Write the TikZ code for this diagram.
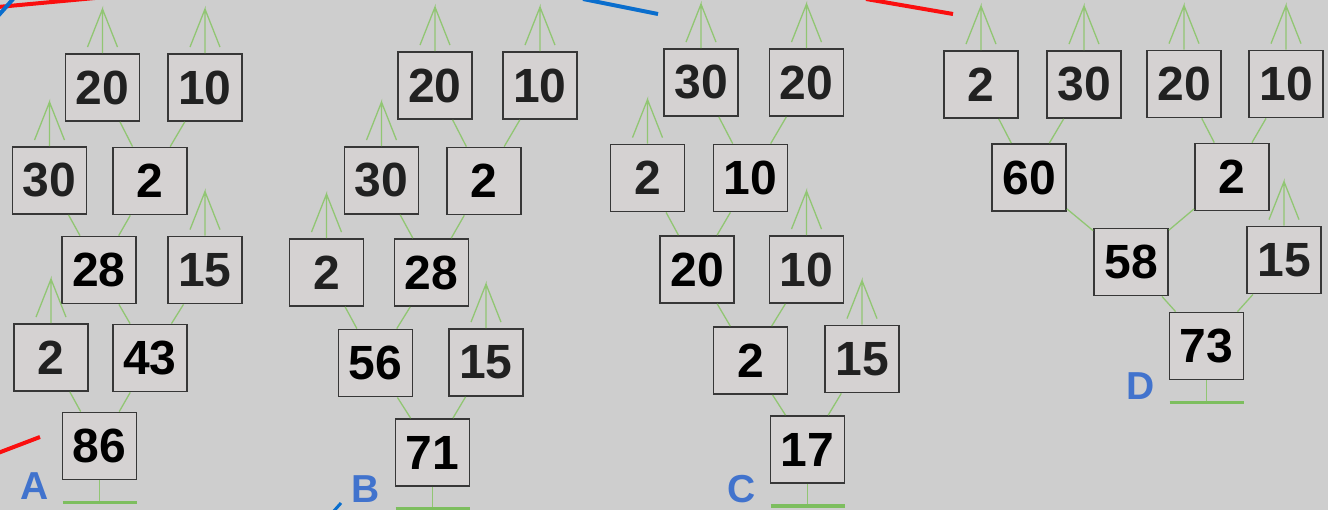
\documentclass[tikz,border=0pt]{standalone}
\usepackage{fontspec}
\setmainfont{Liberation Sans}
\definecolor{bggray}{RGB}{206,206,206}
\definecolor{boxfill}{RGB}{213,210,210}
\definecolor{boxline}{RGB}{55,55,55}
\definecolor{leafgreen}{RGB}{145,198,115}
\definecolor{groundgreen}{RGB}{125,190,95}
\definecolor{labelblue}{RGB}{65,115,205}
\definecolor{markred}{RGB}{250,15,15}
\definecolor{markblue}{RGB}{10,110,205}
\usetikzlibrary{positioning}

\tikzset{
  leafbox/.style={draw=boxline, fill=boxfill, line width=1.8pt, minimum width=74pt, minimum height=67pt, inner sep=0pt, text=black!87, font=\fontsize{48}{48}\selectfont\bfseries},
  sumbox/.style={leafbox, text=black},
  link/.style={draw=leafgreen, line width=1.3pt},
  sprout/.style={draw=leafgreen, line width=1.3pt},
  ground/.style={draw=groundgreen, line width=3.5pt},
  treelabel/.style={text=labelblue, font=\fontsize{39}{39}\selectfont\bfseries, inner sep=0pt}
}

\begin{document}
\begin{tikzpicture}[x=1pt, y=-1pt]
  \fill[bggray] (0,0) rectangle (1328,510);
  \useasboundingbox (0,0) rectangle (1328,510);

  % Tree A
  \node[leafbox] (a20) at (102.5,87.5) {20};
  \node[leafbox] (a10) at (205,87.5) {10};
  \node[leafbox] (a30) at (49.5,180.5) {30};
  \node[sumbox]  (a2t) at (150,181) {2};
  \node[sumbox]  (a28) at (99,270) {28};
  \node[leafbox] (a15) at (205,270) {15};
  \node[leafbox] (a2b) at (51,357.5) {2};
  \node[sumbox]  (a43) at (150,358) {43};
  \node[sumbox]  (a86) at (99.5,446) {86};
  \node[treelabel] (labA) at (35,486) {A};

  % Tree B
  \node[leafbox] (b20) at (435,85.5) {20};
  \node[leafbox] (b10) at (540,85.5) {10};
  \node[leafbox] (b30) at (381.5,180.5) {30};
  \node[sumbox]  (b2t) at (484,181) {2};
  \node[leafbox] (b2)  at (326.5,272.5) {2};
  \node[sumbox]  (b28) at (431.5,272.5) {28};
  \node[sumbox]  (b56) at (375.5,363) {56};
  \node[leafbox] (b15) at (486,362.5) {15};
  \node[sumbox]  (b71) at (432.5,452.5) {71};
  \node[treelabel] (labB) at (366,489) {B};

  % Tree C
  \node[leafbox] (c30)  at (701,82.5) {30};
  \node[leafbox] (c20)  at (806.5,82.5) {20};
  \node[leafbox] (c2)   at (647.5,178) {2};
  \node[sumbox]  (c10)  at (750.5,178) {10};
  \node[sumbox]  (c20m) at (697,269.5) {20};
  \node[leafbox] (c10m) at (806.5,269.5) {10};
  \node[sumbox]  (c2b)  at (750.5,360.5) {2};
  \node[leafbox] (c15)  at (862,359) {15};
  \node[sumbox]  (c17)  at (807.5,449.5) {17};
  \node[treelabel] (labC) at (742,489) {C};

  % Tree D
  \node[leafbox] (d2)  at (981,84.5) {2};
  \node[leafbox] (d30) at (1084,84.5) {30};
  \node[leafbox] (d20) at (1184,84) {20};
  \node[leafbox] (d10) at (1286,84) {10};
  \node[sumbox]  (d60) at (1029,177.5) {60};
  \node[sumbox]  (d2m) at (1232,177) {2};
  \node[sumbox]  (d58) at (1131,262) {58};
  \node[leafbox] (d15) at (1284,260) {15};
  \node[sumbox]  (d73) at (1206.5,346) {73};
  \node[treelabel] (labD) at (1141,386) {D};

  % merges
  \foreach \c/\p in {a20/a2t, a10/a2t, a30/a28, a2t/a28, a28/a43, a15/a43, a2b/a86, a43/a86,
                     b20/b2t, b10/b2t, b30/b28, b2t/b28, b2/b56, b28/b56, b56/b71, b15/b71,
                     c30/c10, c20/c10, c2/c20m, c10/c20m, c20m/c2b, c10m/c2b, c2b/c17, c15/c17,
                     d2/d60, d30/d60, d20/d2m, d10/d2m, d60/d58, d2m/d58, d58/d73, d15/d73}
    \draw[link] (\c) -- (\p);

  % open ends
  \foreach \n in {a20, a10, a30, a15, a2b, b20, b10, b30, b2, b15, c30, c20, c2, c10m, c15, d2, d30, d20, d10, d15}
    \draw[sprout] (\n.north) -- ++(0,-44) -- ++(-15,38) ++(15,-38) -- ++(15,38);

  % roots
  \foreach \r in {a86, b71, c17, d73} {
    \draw[link] (\r.south) -- ++(0,22) coordinate (g\r);
    \draw[ground] ([xshift=-37pt]g\r) -- ([xshift=37pt]g\r);
  }

  % pen strokes
  \draw[markred, line width=4pt] (-2,7) -- (95,-2);
  \draw[markblue, line width=4pt] (-2,16) -- (14,-2);
  \draw[markblue, line width=4pt] (583,-1) -- (658,14);
  \draw[markred, line width=4pt] (866,-1) -- (953,14);
  \draw[markred, line width=4pt] (-2,453) -- (40,437);
  \draw[markblue, line width=3pt] (333,512) -- (341,503);
\end{tikzpicture}
\end{document}
